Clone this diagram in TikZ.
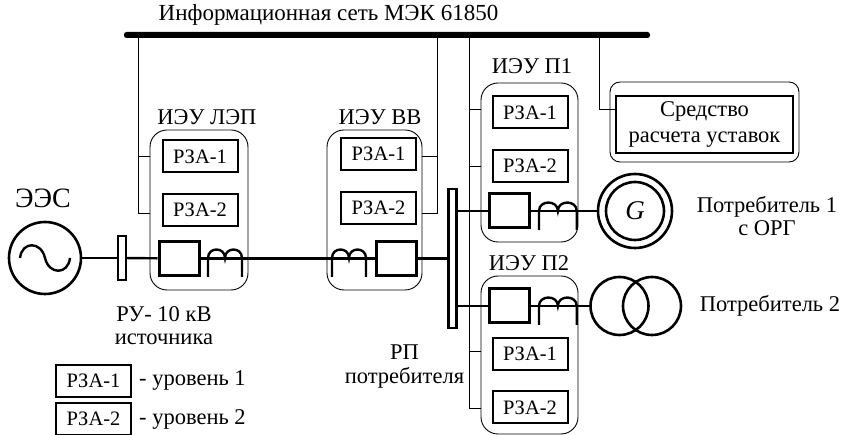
\documentclass[tikz,border=0pt]{standalone}
\usepackage{fontspec}
\setmainfont{Liberation Serif}
\usetikzlibrary{positioning}
\tikzset{
  ied/.style={draw, line width=0.9pt, rounded corners=17pt, inner sep=0pt},
  rza/.style={draw, line width=2pt, inner sep=0pt, minimum width=75pt, minimum height=32pt, font=\fontsize{20.5}{22}\selectfont},
  brk/.style={draw, line width=3pt, inner sep=0pt, minimum width=40pt, minimum height=34pt},
  power/.style={line width=2.4pt},
  link/.style={line width=0.9pt},
  buswire/.style={draw, line width=2.4pt, inner sep=0pt, fill=white},
  machine/.style={draw, circle, line width=2.6pt, inner sep=0pt},
  coil/.pic={
    \draw[line width=2.4pt] (0,19) -- (0,0) .. controls (0,-11.3) and (17,-11.3) .. (17,0)
      .. controls (17,-11.3) and (34,-11.3) .. (34,0) -- (34,19);
  }
}
\begin{document}
\begin{tikzpicture}[x=1pt, y=-1pt, font=\fontsize{22.5}{23}\selectfont]
    \useasboundingbox (0,0) rectangle (844,435);
    % network bus and its taps
    \node[fill=black, rounded corners=2.5pt, inner sep=0pt, minimum width=526pt, minimum height=6pt] (net) at (387,35) {};
    \node[font=\fontsize{23}{23}\selectfont] (nettext) at (328.5,15) {Информационная сеть МЭК 61850};
    \coordinate (tapL) at (138,35);
    \coordinate (tapV) at (437,35);
    \coordinate (tapP) at (469,35);
    \coordinate (tapS) at (599,35);
    % relay cabinets
    \node[ied, minimum width=98pt, minimum height=160pt] (iedL) at (199,210) {};
    \node[ied, minimum width=95pt, minimum height=160pt] (iedV) at (374.5,210) {};
    \node[ied, minimum width=97pt, minimum height=159pt] (iedA) at (529.5,162.5) {};
    \node[ied, minimum width=97pt, minimum height=158pt] (iedB) at (529.5,355) {};
    \node (iedLtext) at (207,117) {ИЭУ ЛЭП};
    \node (iedVtext) at (380,117) {ИЭУ ВВ};
    \node (iedAtext) at (532,66) {ИЭУ П1};
    \node (iedBtext) at (529,263) {ИЭУ П2};
    \node[rza] (rzaL1) at (200,156.5) {РЗА-1};
    \node[rza] (rzaL2) at (200,210) {РЗА-2};
    \node[rza] (rzaV1) at (378.5,154) {РЗА-1};
    \node[rza] (rzaV2) at (378.5,208) {РЗА-2};
    \node[rza] (rzaA1) at (530,112.5) {РЗА-1};
    \node[rza] (rzaA2) at (530,166) {РЗА-2};
    \node[rza] (rzaB1) at (530,354) {РЗА-1};
    \node[rza] (rzaB2) at (530,407.5) {РЗА-2};
    % primary equipment
    \node[machine, minimum size=72pt] (src) at (45,258) {};
    \draw[line width=2.4pt] (20,258) .. controls (22,241) and (41,241) .. (45,258)
      .. controls (49,275) and (68,275) .. (70,258);
    \node[font=\fontsize{28}{28}\selectfont] (srctext) at (43,198) {ЭЭС};
    \node[buswire, minimum width=8pt, minimum height=44pt] (busS) at (122,258) {};
    \node[buswire, minimum width=8pt, minimum height=139pt] (busP) at (452.5,258.5) {};
    \node[brk] (brkL) at (179,258.5) {};
    \node[brk] (brkV) at (396,258.5) {};
    \node[brk] (brkA) at (509.5,211) {};
    \node[brk] (brkB) at (509.5,306) {};
    \pic at (208,258) {coil};
    \pic at (332,258) {coil};
    \pic[xscale=1.11] at (539,211) {coil};
    \pic[xscale=1.11] at (539,306) {coil};
    \node[machine, minimum size=74pt] (gen) at (635,211) {};
    \node[machine, minimum size=58pt] (genin) at (635,211) {\fontsize{27}{27}\selectfont\itshape G};
    \node[machine, minimum size=58pt] (trA) at (619.5,306) {};
    \node[machine, minimum size=58pt] (trB) at (652,306) {};
    \draw[power] (src) -- (busS);
    \draw[power] (busS) -- (brkL);
    \draw[power] (brkL) -- (brkV);
    \draw[power] (brkV.east) -- (brkV.east -| busP.west);
    \draw[power] (busP.east |- brkA) -- (brkA);
    \draw[power] (busP.east |- brkB) -- (brkB);
    \draw[power] (brkA) -- (gen);
    \draw[power] (brkB) -- (trA);
    % links to the network
    \coordinate (stubL1) at (iedL.west |- 0,156);
    \coordinate (stubL2) at (iedL.west |- 0,213);
    \coordinate (stubV1) at (iedV.east |- 0,156);
    \coordinate (stubV2) at (iedV.east |- 0,213);
    \coordinate (stubA1) at (iedA.west |- 0,109);
    \coordinate (stubA2) at (iedA.west |- 0,166);
    \coordinate (stubB1) at (iedB.west |- 0,351);
    \coordinate (stubB2) at (iedB.west |- 0,408);
    \draw[link] (tapL) |- (stubL2);
    \draw[link] (tapL |- stubL1) -- (stubL1);
    \draw[link] (tapV) |- (stubV2);
    \draw[link] (tapV |- stubV1) -- (stubV1);
    \draw[link] (tapP) |- (stubB2);
    \draw[link] (tapP |- stubA1) -- (stubA1);
    \draw[link] (tapP |- stubA2) -- (stubA2);
    \draw[link] (tapP |- stubB1) -- (stubB1);
    % settings tool
    \node[draw, line width=0.9pt, rounded corners=10pt, minimum width=189pt, minimum height=80pt, inner sep=0pt] (tool) at (704.5,122) {};
    \node[draw, line width=2.4pt, minimum width=177pt, minimum height=57pt, inner sep=0pt, align=center] (toolin) at (704.5,124.5) {Средство\\[3pt]расчета уставок};
    \draw[link] (tapS) |- (toolin.west |- 0,109);
    % captions
    \node[align=center] (loadA) at (767,216) {Потребитель 1\\с ОРГ};
    \node (loadB) at (770,306) {Потребитель 2};
    \node[align=center] (rutext) at (164,326) {РУ- 10 кВ\\источника};
    \node[align=center] (rptext) at (404.5,367) {РП\\[1pt]потребителя};
    % legend
    \node[rza] (legA) at (93.5,381) {РЗА-1};
    \node[rza] (legB) at (93.5,419) {РЗА-2};
    \node[right=7pt of legA, inner sep=0pt] (legAtext) {- уровень 1};
    \node[right=7pt of legB, inner sep=0pt] (legBtext) {- уровень 2};
  \end{tikzpicture}
\end{document}
